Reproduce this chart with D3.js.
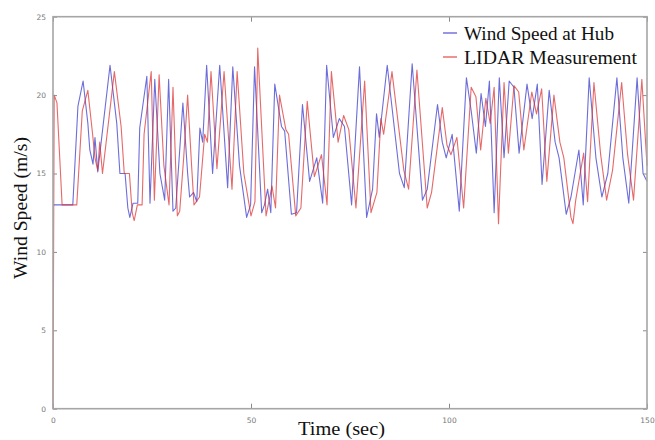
<!DOCTYPE html>
<html>
<head>
<meta charset="utf-8">
<script src="https://cdn.jsdelivr.net/npm/d3@7"></script>
<style>
  html, body { margin: 0; padding: 0; background: #fff; }
  svg { display: block; }
</style>
</head>
<body>
<svg id="chart" width="655" height="440"></svg>
<script>
// Wind speed at hub height (time in s, speed in m/s)
const hubTime = [0, 5.0, 6.3, 7.6, 8.8, 9.3, 10.1, 10.6, 11.3, 14.4, 16.1, 16.9, 18.2, 18.9, 19.4, 20.2, 21.4, 21.9,
  23.7, 24.5, 25.7, 27.0, 28.2, 29.2, 30.3, 31.0, 32.0, 32.8, 34.0, 34.5, 35.5, 36.3, 37.1, 37.8, 38.8, 40.3,
  42.1, 44.1, 45.4, 47.1, 48.9, 49.9, 50.9, 52.7, 53.4, 54.2, 55.0, 56.0, 57.7, 58.5, 60.2, 61.5, 63.0, 64.8,
  66.6, 68.1, 69.1, 70.8, 72.3, 73.6, 75.4, 77.4, 79.2, 80.7, 81.7, 82.4, 84.4, 87.5, 88.7, 90.7, 93.3, 94.5,
  97.1, 98.3, 99.3, 100.8, 102.6, 104.4, 105.6, 106.9, 108.1, 109.2, 110.2, 111.4, 112.7, 113.9, 115.2, 116.4,
  117.7, 119.7, 121.0, 122.3, 123.5, 125.3, 126.8, 127.8, 129.6, 130.8, 132.8, 133.9, 135.4, 137.1, 138.6,
  140.1, 142.4, 143.9, 145.4, 147.5, 149.0, 150];
const hubSpeed = [13, 13, 19.3, 20.9, 18.2, 16.5, 15.6, 17.3, 15.1, 21.9, 18.2, 15, 15, 12.8, 12.2, 13.1, 13.1, 17.9,
  21.2, 13.1, 21, 15, 13.3, 21, 12.6, 12.8, 16.5, 19.5, 15, 13.5, 13.8, 13.2, 17.9, 17, 21.9, 15,
  21.9, 14.1, 21.8, 15.5, 12.2, 13, 21.8, 12.5, 13, 14, 12.5, 20.7, 18, 17.7, 12.4, 12.5, 19.4, 14.5,
  16, 13.1, 21.9, 17.3, 18.5, 18, 13, 21.8, 12.2, 14, 18.8, 17.3, 21.9, 15, 14.1, 22, 13.3, 14,
  19.4, 17, 16, 17.5, 12.6, 21.1, 19, 16.3, 20.1, 18, 20.9, 12.5, 21.1, 16, 20.9, 20.5,
  16.3, 20.7, 18.5, 20.7, 14.3, 20.3, 17, 16, 12.4, 13.5, 16.5, 13, 21.1, 16, 13.5,
  15, 21.1, 16, 13.1, 21.1, 15, 14.5];

// LIDAR preview measurement (time in s, speed in m/s)
const lidarTime = [0, 0.3, 1, 2.3, 6, 7.4, 8.8, 10, 10.6, 11.3, 11.8, 12.5, 15.5, 17.2, 18, 19.3, 20, 20.5, 21.3,
  22.5, 23, 24.8, 25.6, 26.8, 28, 29.3, 30.3, 31.4, 32, 33, 34, 35, 35.6, 37, 38.3, 39, 39.9, 41.4, 43.2,
  45.2, 46.5, 48.2, 50, 51, 51.7, 53.8, 54.6, 55.3, 56.2, 57.2, 58.8, 59.5, 61.3, 62.6, 64.2, 66, 67.8,
  69.2, 70.3, 72, 73.4, 74.7, 76.5, 78.7, 80.3, 81.8, 82.8, 83.5, 85.6, 88.6, 89.8, 91.9, 94.5, 95.6,
  98.3, 99.5, 100.5, 102, 103.7, 105.6, 106.8, 108, 109.3, 110.4, 111.4, 112.5, 113.9, 115, 116.4,
  117.6, 118.9, 120.9, 122.1, 123.4, 124.7, 126.5, 128, 129, 130.8, 131.3, 132, 134, 135, 136.6,
  138.3, 139.8, 141.3, 143.6, 145.1, 146.6, 148.7, 150];
const lidarSpeed = [0, 20, 19.5, 13, 13, 19, 20.3, 17.5, 16, 15.2, 17, 15, 21.5, 18, 15, 15, 12.5, 12, 13,
  13, 17.5, 21.5, 13.3, 21.3, 15.5, 13, 20.5, 12.3, 12.6, 16, 20, 15.5, 13, 13.5, 17.5, 17, 21.5, 15.3, 21.5,
  14, 21.5, 15, 12.3, 13.2, 23, 12.3, 13.3, 14.2, 12.8, 20, 17.8, 17.5, 12.3, 12.8, 19.6, 14.8, 16.2,
  13, 21.5, 17, 18.7, 17.8, 12.8, 20.9, 12.5, 13.8, 18.5, 17.5, 21.5, 15.2, 14, 21.6, 12.8, 13.8,
  19.2, 16.8, 16.2, 17.3, 12.8, 20.5, 19.9, 16.5, 19.8, 18.2, 20.5, 11.8, 20.8, 16.3, 20.6,
  20.2, 16.5, 20.2, 18.8, 20.4, 14.5, 20, 17, 16, 12.2, 11.8, 13.3, 16.3, 13.2, 20.8,
  16.2, 13.3, 15.2, 20.8, 16.2, 13.3, 21, 15.5];

const xTicks = [0, 50, 100, 150];
const yTicks = [0, 5, 10, 15, 20, 25];
const seriesNames = ["Wind Speed at Hub", "LIDAR Measurement"];
const seriesColors = ["#3434cc", "#dd2f2f"];

const svg = d3.select("#chart");
const plot = { left: 53, top: 16.7, right: 647, bottom: 408.7 };

const x = d3.scaleLinear().domain([0, 150]).range([plot.left, plot.right]);
const y = d3.scaleLinear().domain([0, 25]).range([plot.bottom, plot.top]);

// Data lines
const line = d3.line().x(d => x(d[0])).y(d => y(d[1]));
const hub = hubTime.map((t, i) => [t, hubSpeed[i]]);
const lidar = lidarTime.map((t, i) => [t, lidarSpeed[i]]);

const lines = svg.append("g");
[hub, lidar].forEach((pts, i) => {
  lines.append("path")
    .datum(pts)
    .attr("d", line)
    .attr("fill", "none")
    .attr("stroke", seriesColors[i])
    .attr("stroke-opacity", 0.72)
    .attr("stroke-width", 1.1)
    .attr("stroke-linejoin", "round");
});

// Axes: frame with inward ticks
const tickColor = "#8a8a8a";
const axisBottom = svg.append("g").attr("transform", `translate(0,${plot.bottom})`)
  .call(d3.axisBottom(x).tickValues(xTicks).tickFormat(d3.format("d")).tickSizeInner(-5).tickSizeOuter(0).tickPadding(9));
const axisTop = svg.append("g").attr("transform", `translate(0,${plot.top})`)
  .call(d3.axisTop(x).tickValues(xTicks).tickFormat("").tickSizeInner(-5).tickSizeOuter(0));
const axisLeft = svg.append("g").attr("transform", `translate(${plot.left},0)`)
  .call(d3.axisLeft(y).tickValues(yTicks).tickFormat(d3.format("d")).tickSizeInner(-4).tickSizeOuter(0).tickPadding(7));
const axisRight = svg.append("g").attr("transform", `translate(${plot.right},0)`)
  .call(d3.axisRight(y).tickValues(yTicks).tickFormat("").tickSizeInner(-4).tickSizeOuter(0));

[axisBottom, axisTop, axisLeft, axisRight].forEach(g => {
  g.select(".domain").remove();
  g.selectAll(".tick line").attr("stroke", tickColor).attr("stroke-width", 1);
  g.selectAll(".tick text")
    .attr("fill", "#777")
    .style("font-family", "'DejaVu Sans', sans-serif")
    .style("font-size", "7.5px");
});

svg.append("rect")
  .attr("x", plot.left).attr("y", plot.top)
  .attr("width", plot.right - plot.left).attr("height", plot.bottom - plot.top)
  .attr("fill", "none").attr("stroke", "#a6a6a6").attr("stroke-width", 1.6);

// Axis titles
const serif = "'Liberation Serif', 'Times New Roman', serif";
svg.append("text")
  .attr("x", 298).attr("y", 435)
  .attr("textLength", 87).attr("lengthAdjust", "spacingAndGlyphs")
  .style("font-family", serif).style("font-size", "18px").attr("fill", "#111")
  .text("Time (sec)");

svg.append("text")
  .attr("transform", "translate(27,208) rotate(-90)")
  .attr("text-anchor", "middle")
  .attr("textLength", 142).attr("lengthAdjust", "spacingAndGlyphs")
  .style("font-family", serif).style("font-size", "18px").attr("fill", "#111")
  .text("Wind Speed (m/s)");

// Legend
const legend = svg.append("g");
const legendRows = [
  { baseline: 40, mark: 33, width: 150 },
  { baseline: 64, mark: 57, width: 173 }
];
legendRows.forEach((r, i) => {
  legend.append("line")
    .attr("x1", 443).attr("x2", 457).attr("y1", r.mark).attr("y2", r.mark)
    .attr("stroke", seriesColors[i]).attr("stroke-opacity", 0.8).attr("stroke-width", 1.3);
  legend.append("text")
    .attr("x", 464).attr("y", r.baseline)
    .attr("textLength", r.width).attr("lengthAdjust", "spacingAndGlyphs")
    .style("font-family", serif).style("font-size", "18px").attr("fill", "#111")
    .text(seriesNames[i]);
});
</script>
</body>
</html>
